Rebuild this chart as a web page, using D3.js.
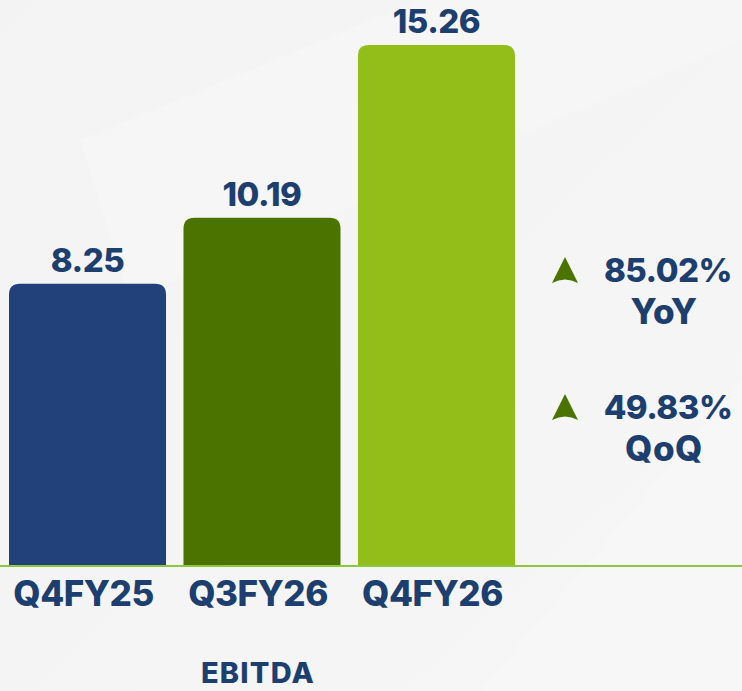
<!DOCTYPE html>
<html>
<head>
<meta charset="utf-8">
<script src="https://cdn.jsdelivr.net/npm/d3@7/dist/d3.min.js"></script>
<style>
  html, body { margin: 0; padding: 0; background: #f4f4f4; }
  svg { display: block; }
  text { font-family: Inter, "Open Sans", sans-serif; font-weight: 800; }
</style>
</head>
<body>
<div id="chart"></div>
<script>
// EBITDA by quarter
const categories = ['Q4FY25', 'Q3FY26', 'Q4FY26'];
const values = [8.25, 10.19, 15.26];
const barColors = ['#22407a', '#4b7300', '#93bd19'];
const growth = [
  { pct: '85.02%', label: 'YoY' },
  { pct: '49.83%', label: 'QoQ' }
];
const title = 'EBITDA';

const W = 742, H = 691;
const baseY = 565;
const textColor = '#1d3f70';

const svg = d3.select('#chart').append('svg')
  .attr('width', W)
  .attr('height', H);

// soft background with faint diagonal highlights
const defs = svg.append('defs');
const bg = defs.append('linearGradient').attr('id', 'bg')
  .attr('x1', 0).attr('y1', 0).attr('x2', 1).attr('y2', 1);
bg.append('stop').attr('offset', 0).attr('stop-color', '#f3f3f3');
bg.append('stop').attr('offset', 1).attr('stop-color', '#f6f6f6');
svg.append('rect').attr('width', W).attr('height', H).attr('fill', 'url(#bg)');
svg.append('path').attr('d', 'M80,140 L420,0 L742,0 L742,40 L130,300 Z').attr('fill', '#ffffff').attr('opacity', 0.18);
svg.append('path').attr('d', 'M480,691 L742,380 L742,691 Z').attr('fill', '#ffffff').attr('opacity', 0.2);

const x = d3.scaleBand()
  .domain(categories)
  .range([9, 515])
  .paddingInner(0.1)
  .paddingOuter(0);

const y = d3.scaleLinear()
  .domain([0, d3.max(values)])
  .range([baseY, 45]);

function topRounded(x0, y0, w, h, r) {
  return `M${x0},${y0 + h} L${x0},${y0 + r} Q${x0},${y0} ${x0 + r},${y0} ` +
    `L${x0 + w - r},${y0} Q${x0 + w},${y0} ${x0 + w},${y0 + r} L${x0 + w},${y0 + h} Z`;
}

const bars = svg.append('g');
bars.selectAll('path')
  .data(values)
  .join('path')
  .attr('d', (d, i) => topRounded(x(categories[i]), y(d), x.bandwidth(), baseY - y(d), 11))
  .attr('fill', (d, i) => barColors[i]);

bars.selectAll('text')
  .data(values)
  .join('text')
  .attr('x', (d, i) => x(categories[i]) + x.bandwidth() / 2)
  .attr('y', d => y(d) - 12)
  .attr('text-anchor', 'middle')
  .attr('font-size', 33)
  .attr('letter-spacing', -0.5)
  .attr('fill', textColor)
  .text(d => d.toFixed(2));

// baseline
svg.append('line')
  .attr('x1', 0).attr('x2', W)
  .attr('y1', baseY + 1).attr('y2', baseY + 1)
  .attr('stroke', '#8dc63f')
  .attr('stroke-width', 2);

// category axis
const axis = svg.append('g')
  .attr('transform', `translate(-4,${baseY})`)
  .call(d3.axisBottom(x).tickSize(0).tickPadding(0));
axis.select('.domain').remove();
axis.selectAll('text')
  .attr('dy', 0)
  .attr('y', 41)
  .attr('font-size', 35)
  .attr('letter-spacing', -0.5)
  .attr('fill', textColor)
  .style('font-family', 'Inter, "Open Sans", sans-serif')
  .style('font-weight', 800);

svg.append('text')
  .attr('x', x(categories[1]) + x.bandwidth() / 2 - 4)
  .attr('y', 683)
  .attr('text-anchor', 'middle')
  .attr('font-size', 29)
  .attr('letter-spacing', 1.2)
  .attr('fill', textColor)
  .text(title);

// growth callouts
const gy = d3.scalePoint().domain(growth.map(d => d.label)).range([282, 419]);
const callouts = svg.append('g').selectAll('g')
  .data(growth)
  .join('g')
  .attr('transform', d => `translate(0,${gy(d.label)})`);

callouts.append('path')
  .attr('d', 'M565,-25 L578,1 Q565,-6 552,1 Z')
  .attr('fill', '#4b7300');

callouts.append('text')
  .attr('x', 668)
  .attr('y', 0)
  .attr('text-anchor', 'middle')
  .attr('font-size', 33)
  .attr('letter-spacing', -0.5)
  .attr('fill', textColor)
  .text(d => d.pct);

callouts.append('text')
  .attr('x', 664)
  .attr('y', 42)
  .attr('text-anchor', 'middle')
  .attr('font-size', 35)
  .attr('letter-spacing', 0.5)
  .attr('fill', textColor)
  .text(d => d.label);
</script>
</body>
</html>
